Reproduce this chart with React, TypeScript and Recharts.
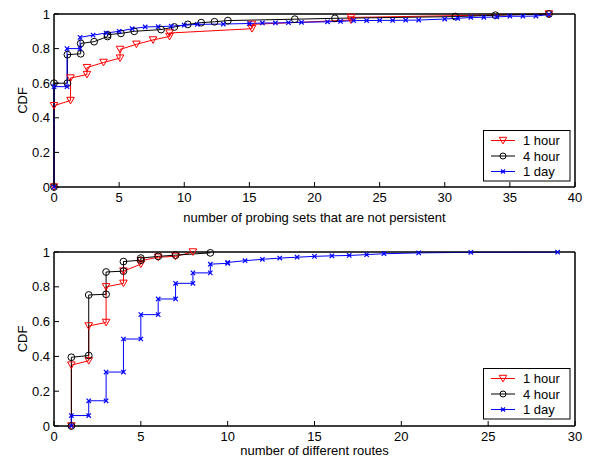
import React from 'react';
import { LineChart, Line, XAxis, YAxis, ReferenceArea } from 'recharts';

// ---------- top panel: number of probing sets that are not persistent ----------
const topHour1X = [0, 0, 1.27, 1.27, 2.53, 2.53, 3.8, 5.07, 5.07, 6.33, 7.6, 8.87, 8.87, 15.2, 15.2, 22.8, 22.8, 38];
const topHour1Y = [0, 0.47, 0.5, 0.63, 0.65, 0.69, 0.72, 0.745, 0.795, 0.825, 0.85, 0.87, 0.89, 0.915, 0.94, 0.965, 0.98, 1];

const topHour4X = [0, 0, 1.03, 1.03, 2.05, 2.05, 3.08, 4.11, 4.11, 5.14, 6.16, 8.22, 9.24, 10.27, 11.3, 12.32, 13.35, 18.49, 21.57, 30.81, 33.89, 38];
const topHour4Y = [0, 0.6, 0.6, 0.765, 0.77, 0.83, 0.84, 0.87, 0.88, 0.888, 0.9, 0.91, 0.925, 0.94, 0.95, 0.955, 0.962, 0.97, 0.975, 0.985, 0.993, 1];

const topDayX = [0, 0, 1, 1, 2, 2, 3, 4, 5, 6, 7, 8, 9, 10, 11, 13, 15, 16, 17, 18, 19, 21, 22, 23, 24, 25, 26, 27, 28, 30, 31, 32, 33, 34, 35, 36, 37, 38];
const topDayY = [0, 0.58, 0.58, 0.8, 0.8, 0.865, 0.878, 0.89, 0.9, 0.915, 0.925, 0.927, 0.93, 0.935, 0.94, 0.942, 0.945, 0.948, 0.948, 0.95, 0.952, 0.955, 0.957, 0.962, 0.962, 0.963, 0.963, 0.964, 0.965, 0.971, 0.975, 0.98, 0.981, 0.983, 0.987, 0.987, 0.988, 0.997];

const topXTicks = [0, 5, 10, 15, 20, 25, 30, 35, 40];

// ---------- bottom panel: number of different routes ----------
const botHour1X = [1, 1, 2, 2, 3, 3, 4, 4, 5, 5, 6, 7, 8];
const botHour1Y = [0, 0.35, 0.375, 0.575, 0.595, 0.8, 0.82, 0.89, 0.93, 0.95, 0.97, 0.975, 1];

const botHour4X = [1, 1, 2, 2, 3, 3, 4, 4, 5, 5, 6, 7, 9];
const botHour4Y = [0, 0.395, 0.405, 0.753, 0.757, 0.885, 0.89, 0.945, 0.953, 0.965, 0.975, 0.982, 0.995];

const botDayX = [1, 1, 2, 2, 3, 3, 4, 4, 5, 5, 6, 6, 7, 7, 8, 8, 9, 9, 10, 10, 11, 12, 13, 14, 15, 16, 17, 18, 19, 21, 24, 29];
const botDayY = [0, 0.06, 0.06, 0.145, 0.145, 0.31, 0.31, 0.5, 0.5, 0.64, 0.64, 0.73, 0.73, 0.82, 0.82, 0.88, 0.88, 0.93, 0.935, 0.94, 0.95, 0.958, 0.965, 0.97, 0.975, 0.978, 0.98, 0.985, 0.99, 0.995, 0.998, 0.999];

const botXTicks = [0, 5, 10, 15, 20, 25, 30];

const yTicks = [0, 0.2, 0.4, 0.6, 0.8, 1];
const seriesNames = ['1 hour', '4 hour', '1 day'];

const zip = (xs: number[], ys: number[]) => xs.map((x, i) => ({ x, y: ys[i] }));

const RED = '#ff0000';
const BLUE = '#0000ff';
const BLACK = '#000000';
const FONT = '"Liberation Sans", Arial, Helvetica, sans-serif';

const triPath = (cx: number, cy: number) =>
  `M${cx - 3.8},${cy - 3.2} L${cx + 3.8},${cy - 3.2} L${cx},${cy + 3.4} Z`;

const renderTri = (p: any) =>
  p.cx == null ? <g key={p.index} /> : (
    <path key={p.index} d={triPath(p.cx, p.cy)} fill="none" stroke={RED} strokeWidth={1} />
  );
const renderCircle = (p: any) =>
  p.cx == null ? <g key={p.index} /> : (
    <circle key={p.index} cx={p.cx} cy={p.cy} r={3.4} fill="none" stroke={BLACK} strokeWidth={1} />
  );
const renderX = (p: any) =>
  p.cx == null ? <g key={p.index} /> : (
    <path key={p.index} d={`M${p.cx - 2.2},${p.cy - 2.2} L${p.cx + 2.2},${p.cy + 2.2} M${p.cx - 2.2},${p.cy + 2.2} L${p.cx + 2.2},${p.cy - 2.2}`} stroke={BLUE} strokeWidth={1.2} />
  );

type PanelProps = {
  top: number;
  height: number;
  axisH: number;
  xMax: number;
  xTicks: number[];
  xLabel: string;
  labelOffset: number;
  h1: { x: number; y: number }[];
  h4: { x: number; y: number }[];
  d1: { x: number; y: number }[];
};

const blank = () => '';

function Panel({ top, height, axisH, xMax, xTicks, xLabel, labelOffset, h1, h4, d1 }: PanelProps) {
  const tickStyle = { fill: '#000', fontSize: 13, fontFamily: FONT };
  return (
    <div style={{ position: 'absolute', left: 0, top }}>
      <LineChart width={592} height={height} margin={{ top: 14, right: 16, bottom: 0, left: 0 }}>
        <XAxis
          xAxisId="b"
          type="number"
          dataKey="x"
          domain={[0, xMax]}
          ticks={xTicks}
          height={axisH}
          tickSize={-5}
          tickMargin={11}
          stroke="#000"
          tick={tickStyle}
          label={{ value: xLabel, position: 'insideBottom', offset: labelOffset, fill: '#000', fontSize: 13, fontFamily: FONT }}
        />
        <XAxis
          xAxisId="t"
          orientation="top"
          type="number"
          dataKey="x"
          domain={[0, xMax]}
          ticks={xTicks}
          height={1}
          tickSize={-5}
          tickFormatter={blank}
          stroke="#000"
        />
        <YAxis
          yAxisId="l"
          type="number"
          domain={[0, 1]}
          ticks={yTicks}
          width={54}
          tickSize={-5}
          tickMargin={9}
          stroke="#000"
          tick={tickStyle}
          tickFormatter={(v: number) => String(v)}
          label={{ value: 'CDF', angle: -90, position: 'center', dx: -5, fill: '#000', fontSize: 13, fontFamily: FONT }}
        />
        <YAxis
          yAxisId="r"
          orientation="right"
          type="number"
          domain={[0, 1]}
          ticks={yTicks}
          width={1}
          tickSize={-5}
          tickFormatter={blank}
          stroke="#000"
        />
        <ReferenceArea
          xAxisId="b"
          yAxisId="l"
          x1={0}
          x2={xMax}
          y1={0}
          y2={1}
          fill="none"
          fillOpacity={0}
          stroke="#000"
          strokeWidth={1}
          strokeOpacity={1}
          ifOverflow="visible"
        />
        <Line data={h1} dataKey="y" xAxisId="b" yAxisId="l" type="linear" stroke={RED} strokeWidth={1} dot={renderTri} activeDot={false} isAnimationActive={false} />
        <Line data={h4} dataKey="y" xAxisId="b" yAxisId="l" type="linear" stroke={BLACK} strokeWidth={1} dot={renderCircle} activeDot={false} isAnimationActive={false} />
        <Line data={d1} dataKey="y" xAxisId="b" yAxisId="l" type="linear" stroke={BLUE} strokeWidth={1} dot={renderX} activeDot={false} isAnimationActive={false} />
      </LineChart>
    </div>
  );
}

function LegendBox({ x, y }: { x: number; y: number }) {
  const rowY = [10, 25.5, 41];
  const colors = [RED, BLACK, BLUE];
  return (
    <g>
      <rect x={x} y={y} width={86.5} height={50.5} fill="#fff" stroke="#000" strokeWidth={1} />
      {seriesNames.map((name, i) => {
        const cy = y + rowY[i];
        const cx = x + 19.5;
        return (
          <g key={name}>
            <line x1={x + 7.5} x2={x + 31.5} y1={cy} y2={cy} stroke={colors[i]} strokeWidth={1} />
            {i === 0 && <path d={triPath(cx, cy)} fill="none" stroke={RED} strokeWidth={1} />}
            {i === 1 && <circle cx={cx} cy={cy} r={3} fill="none" stroke={BLACK} strokeWidth={1} />}
            {i === 2 && (
              <path d={`M${cx - 2},${cy - 2} L${cx + 2},${cy + 2} M${cx - 2},${cy + 2} L${cx + 2},${cy - 2}`} stroke={BLUE} strokeWidth={1.2} />
            )}
            <text x={x + 39.5} y={cy} dominantBaseline="central" fontSize={13} fontFamily={FONT} fill="#000">
              {name}
            </text>
          </g>
        );
      })}
    </g>
  );
}

export default function App() {
  return (
    <div style={{ position: 'absolute', left: 0, top: 0, width: 592, height: 464, background: '#fff', overflow: 'hidden' }}>
      <Panel
        top={-1}
        height={233}
        axisH={45}
        xMax={40}
        xTicks={topXTicks}
        xLabel="number of probing sets that are not persistent"
        labelOffset={10}
        h1={zip(topHour1X, topHour1Y)}
        h4={zip(topHour4X, topHour4Y)}
        d1={zip(topDayX, topDayY)}
      />
      <Panel
        top={237}
        height={227}
        axisH={38}
        xMax={30}
        xTicks={botXTicks}
        xLabel="number of different routes"
        labelOffset={9}
        h1={zip(botHour1X, botHour1Y)}
        h4={zip(botHour4X, botHour4Y)}
        d1={zip(botDayX, botDayY)}
      />
      <svg width={592} height={464} style={{ position: 'absolute', left: 0, top: 0, pointerEvents: 'none' }}>
        <LegendBox x={483.5} y={130.5} />
        <LegendBox x={483.5} y={368.5} />
      </svg>
    </div>
  );
}
